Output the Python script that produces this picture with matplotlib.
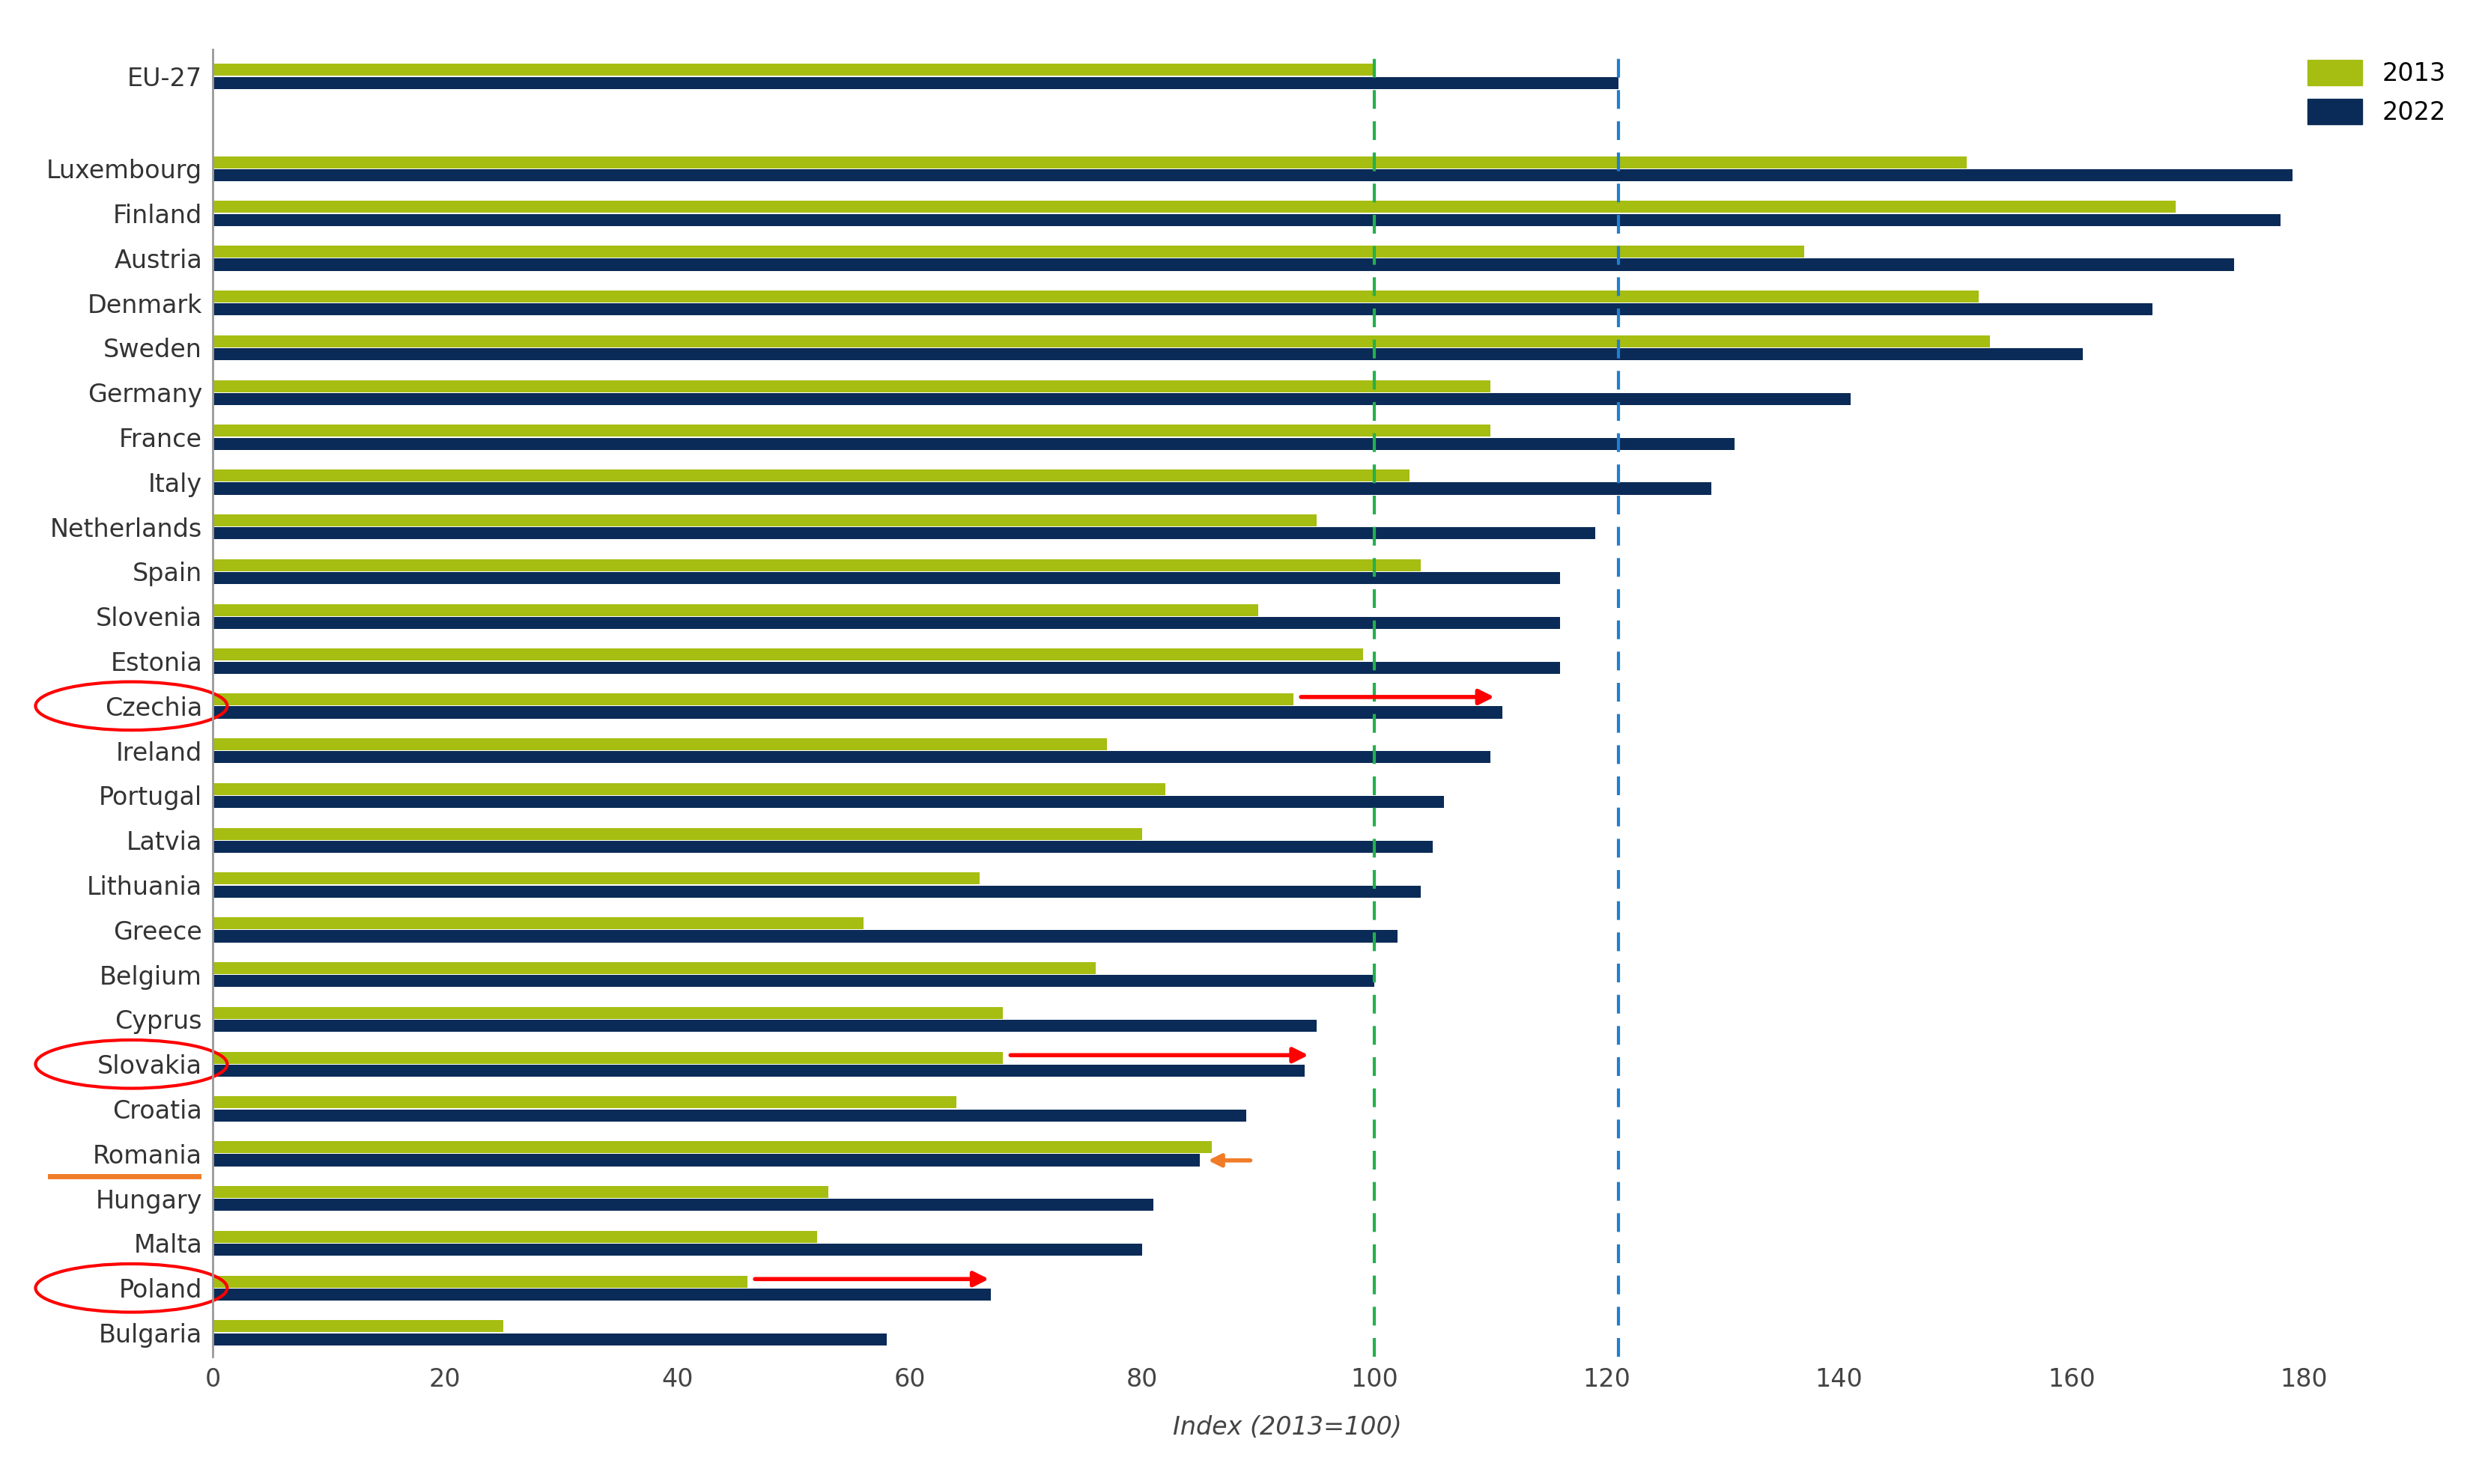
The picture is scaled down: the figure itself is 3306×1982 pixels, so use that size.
import matplotlib
matplotlib.use("Agg")
import matplotlib.pyplot as plt
from matplotlib.patches import Ellipse, Patch

countries = ["EU-27", "Luxembourg", "Finland", "Austria", "Denmark", "Sweden", "Germany", "France",
             "Italy", "Netherlands", "Spain", "Slovenia", "Estonia", "Czechia", "Ireland", "Portugal",
             "Latvia", "Lithuania", "Greece", "Belgium", "Cyprus", "Slovakia", "Croatia", "Romania",
             "Hungary", "Malta", "Poland", "Bulgaria"]
v2013 = [100, 151, 169, 137, 152, 153, 110, 110, 103, 95, 104, 90, 99, 93, 77, 82, 80, 66, 56, 76,
         68, 68, 64, 86, 53, 52, 46, 25]
v2022 = [121, 179, 178, 174, 167, 161, 141, 131, 129, 119, 116, 116, 116, 111, 110, 106, 105, 104,
         102, 100, 95, 94, 89, 85, 81, 80, 67, 58]
xticks = [0, 20, 40, 60, 80, 100, 120, 140, 160, 180]

green = "#a6bd12"
navy = "#0a2b57"

fig = plt.figure(figsize=(33.06, 19.82), dpi=100)
ax = fig.add_axes([0.0859, 0.0856, 0.868, 0.881])

ys = [0] + [2.06 + i for i in range(len(countries) - 1)]
h = 0.27
ax.barh([y - h / 2 - 0.01 for y in ys], v2013, height=h, color=green, label="2013")
ax.barh([y + h / 2 + 0.01 for y in ys], v2022, height=h, color=navy, label="2022")

ax.set_ylim(28.6, -0.6)
ax.set_xlim(0, 185)
ax.set_yticks(ys)
ax.set_yticklabels(countries, fontsize=24, color="#333333")
ax.set_xticks(xticks)
ax.set_xticklabels([str(t) for t in xticks], fontsize=24, color="#444444")
ax.tick_params(length=0, pad=10)
for s in ["top", "right", "bottom"]:
    ax.spines[s].set_visible(False)
ax.spines["left"].set_color("#999999")
ax.spines["left"].set_linewidth(2)
ax.set_xlabel("Index (2013=100)", fontsize=24, style="italic", color="#444444", labelpad=22)

ax.axvline(100, color="#22b14c", ls=(0, (6, 4)), lw=3)
ax.axvline(121, color="#1f7fd0", ls=(0, (6, 4)), lw=3)

idx = {c: ys[i] for i, c in enumerate(countries)}
for c in ["Czechia", "Slovakia", "Poland"]:
    ax.add_patch(Ellipse((-7, idx[c]), 16.5, 1.08, fill=False, ec="red", lw=3, clip_on=False))
arrows = [("Czechia", 93.5, 110.5), ("Slovakia", 68.5, 94.5), ("Poland", 46.5, 67)]
for c, x0, x1 in arrows:
    ax.annotate("", xy=(x1, idx[c] - 0.2), xytext=(x0, idx[c] - 0.2),
                arrowprops=dict(arrowstyle="-|>", color="red", lw=4, mutation_scale=30))
ax.annotate("", xy=(85.5, idx["Romania"] + 0.15), xytext=(89.5, idx["Romania"] + 0.15),
            arrowprops=dict(arrowstyle="-|>", color="#f07c28", lw=4, mutation_scale=25))
ax.plot([-14, -1.2], [idx["Romania"] + 0.5] * 2, color="#f07c28", lw=5, clip_on=False)

fig.legend(handles=[Patch(color=green, label="2013"), Patch(color=navy, label="2022")],
           loc="upper right", bbox_to_anchor=(0.997, 0.975), frameon=False, fontsize=24,
           handlelength=2.2, handleheight=1.2, labelspacing=0.5)

fig.savefig("out.png", dpi=100, facecolor="white")
